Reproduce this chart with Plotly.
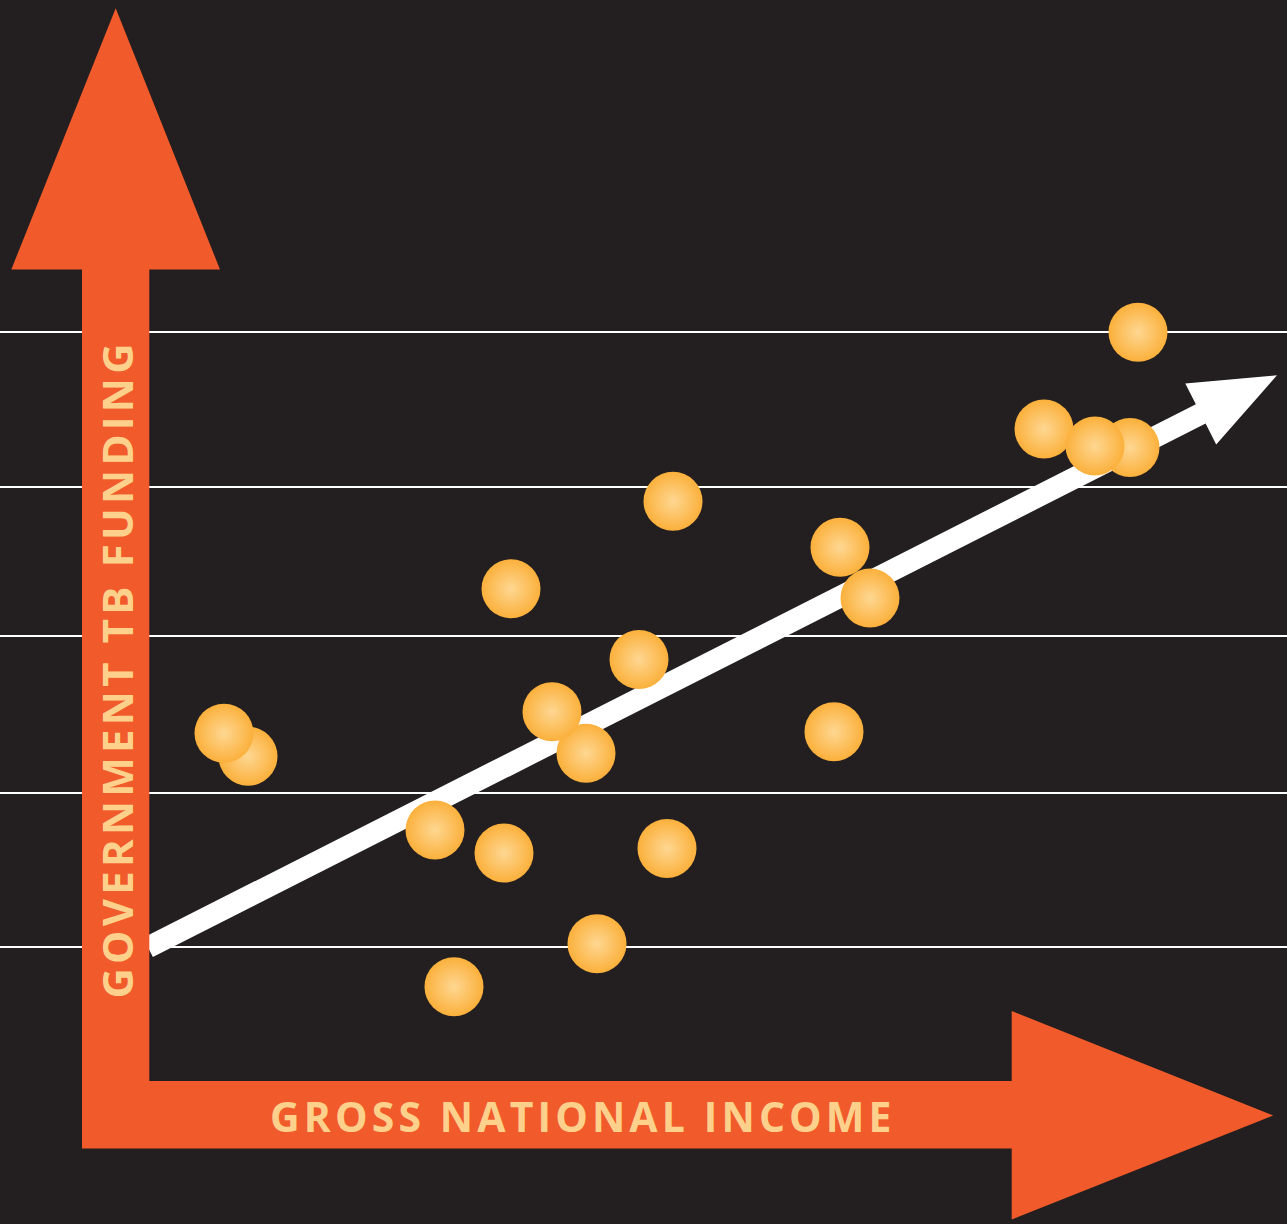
import math
import plotly.graph_objects as go

# ---------------- data (arbitrary index units) ----------------
gni = [1.00, 0.76, 3.06, 4.49, 2.87, 3.56, 5.19, 4.38, 4.04, 6.86, 4.91,
       3.63, 6.92, 7.22, 5.25, 8.96, 9.82, 9.47, 9.90]
funding = [2.24, 2.39, 0.74, 1.02, 1.76, 1.61, 1.64, 2.26, 2.53, 2.40, 2.87,
           3.33, 3.60, 3.27, 3.90, 4.37, 4.25, 4.26, 5.00]

trend_x = [0.0, 11.29]
trend_y = [0.995, 4.72]

grid_levels = [1.0, 2.0, 3.02, 3.99, 5.0]

x_title = "GROSS NATIONAL INCOME"
y_title = "GOVERNMENT TB FUNDING"

# ---------------- style ----------------
W, H = 1287, 1224
BG = "#231f20"
ORANGE = "#f15a2b"
TEXT = "#fdd18b"
DOT_EDGE = "#fbb03b"
DOT_CENTER = "#fed792"

X0_PX, X_PX_PER_UNIT = 148.0, 100.0
Y1_PX, Y_PX_PER_UNIT = 946.7, 153.6


def to_px(x, y):
    return X0_PX + X_PX_PER_UNIT * x, Y1_PX - Y_PX_PER_UNIT * (y - 1)


def to_data(px, py):
    return (px - X0_PX) / X_PX_PER_UNIT, 1 + (Y1_PX - py) / Y_PX_PER_UNIT


x_range = [to_data(0, 0)[0], to_data(W, 0)[0]]
y_range = [to_data(0, H)[1], to_data(0, 0)[1]]

fig = go.Figure()

# trend arrow (white), built from the trend endpoints
p0 = to_px(trend_x[0], trend_y[0])
p1 = to_px(trend_x[1], trend_y[1])
dx, dy = p1[0] - p0[0], p1[1] - p0[1]
L = math.hypot(dx, dy)
ux, uy = dx / L, dy / L
nx, ny = -uy, ux
head_len, head_half, shaft_half = 85.5, 34.2, 10.8
bx, by = p1[0] - ux * head_len, p1[1] - uy * head_len
poly_px = [
    (p0[0] + nx * shaft_half, p0[1] + ny * shaft_half),
    (bx + nx * shaft_half, by + ny * shaft_half),
    (bx + nx * head_half, by + ny * head_half),
    p1,
    (bx - nx * head_half, by - ny * head_half),
    (bx - nx * shaft_half, by - ny * shaft_half),
    (p0[0] - nx * shaft_half, p0[1] - ny * shaft_half),
]
poly = [to_data(*p) for p in poly_px]
fig.add_trace(go.Scatter(
    x=[p[0] for p in poly] + [poly[0][0]],
    y=[p[1] for p in poly] + [poly[0][1]],
    mode="lines", fill="toself", fillcolor="white",
    line=dict(width=0, color="white"), hoverinfo="skip", showlegend=False,
))

# dots
fig.add_trace(go.Scatter(
    x=gni, y=funding, mode="markers",
    marker=dict(size=59, color=DOT_EDGE, line=dict(width=0),
                gradient=dict(type="radial", color=DOT_CENTER)),
    showlegend=False,
    hovertemplate="GNI %{x}<br>Funding %{y}<extra></extra>",
))

# orange axis arrows (decoration, paper coordinates)
def P(px, py):
    return f"{px / W:.5f},{1 - py / H:.5f}"

pts = [(82, 1148.5), (1011.7, 1148.5), (1011.7, 1219.5), (1273.3, 1115.5),
       (1011.7, 1011), (1011.7, 1081), (149.3, 1081), (149.3, 269.5),
       (220, 269.5), (115.7, 8.3), (11.3, 269.5), (82, 269.5)]
path = "M " + " L ".join(P(*p) for p in pts) + " Z"
fig.add_shape(type="path", path=path, xref="paper", yref="paper",
              fillcolor=ORANGE, line=dict(width=0), layer="above")


def spaced(s):
    return "\u200a".join(list(s))


fig.add_annotation(
    text=spaced(x_title), x=580.5 / W, y=1 - 1116 / H, xref="paper", yref="paper",
    showarrow=False, xanchor="center", yanchor="middle",
    font=dict(family="Open Sans", size=41, color=TEXT, weight=700),
)
fig.add_annotation(
    text=spaced(y_title), x=116 / W, y=1 - 671.5 / H, xref="paper", yref="paper",
    showarrow=False, xanchor="center", yanchor="middle", textangle=-90,
    font=dict(family="Open Sans", size=42, color=TEXT, weight=700),
)

fig.update_layout(
    width=W, height=H,
    margin=dict(l=0, r=0, t=0, b=0),
    paper_bgcolor=BG, plot_bgcolor=BG,
    xaxis=dict(range=x_range, showgrid=False, zeroline=False, showline=False,
               showticklabels=False, ticks=""),
    yaxis=dict(range=y_range, tickvals=grid_levels, showgrid=True,
               gridcolor="white", gridwidth=2, zeroline=False, showline=False,
               showticklabels=False, ticks=""),
    showlegend=False,
)

fig.write_html(
    "out.html",
    config={"displayModeBar": False},
    post_script="document.body.style.margin='0';document.body.style.background='#231f20';",
)
